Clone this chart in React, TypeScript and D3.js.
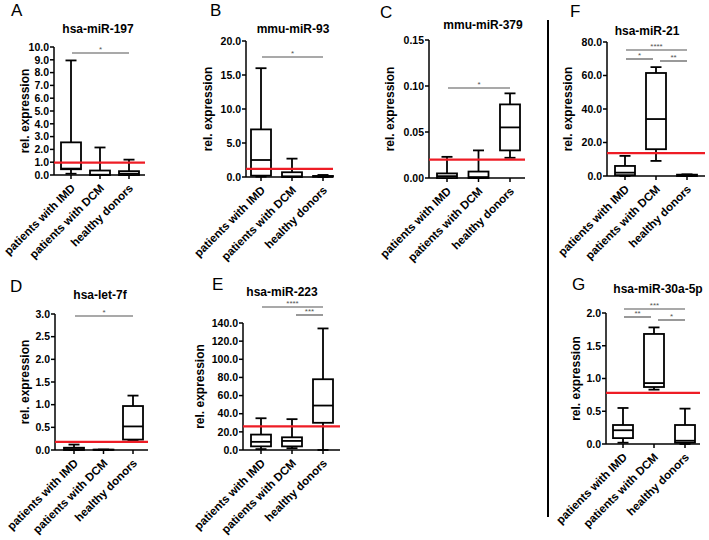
import React from "react";
import * as d3 from "d3";

const categories = ["patients with IMD", "patients with DCM", "healthy donors"];

// box stats per category: [min, q1, median, q3, max]
const statsA = [[0.1, 0.45, 0.5, 2.55, 8.95], [0, 0, 0.02, 0.35, 2.15], [0, 0, 0.1, 0.3, 1.2]];
const statsB = [[0.05, 0.2, 2.5, 7.0, 16.0], [0, 0, 0.1, 0.7, 2.7], [0, 0.05, 0.1, 0.15, 0.3]];
const statsC = [[0, 0, 0.002, 0.005, 0.023], [0, 0, 0.001, 0.007, 0.03], [0.022, 0.03, 0.055, 0.08, 0.092]];
const statsD = [[0, 0, 0.02, 0.05, 0.12], [0.005, 0.005, 0.005, 0.008, 0.008], [0.22, 0.23, 0.52, 0.97, 1.2]];
const statsE = [[1, 4, 9, 17, 35], [2, 4, 10, 14, 34], [0, 30, 49, 78, 134]];
const statsF = [[0, 0.5, 2, 6, 12], [9, 16, 34, 61.5, 65], [0, 0, 0.5, 0.8, 1]];
const statsG = [[0.02, 0.09, 0.21, 0.29, 0.55], [0.83, 0.87, 0.93, 1.68, 1.78], [0, 0.02, 0.05, 0.29, 0.54]];

const titles = ["hsa-miR-197", "mmu-miR-93", "mmu-miR-379", "hsa-let-7f", "hsa-miR-223", "hsa-miR-21", "hsa-miR-30a-5p"];
const letters = ["A", "B", "C", "D", "E", "F", "G"];
const yMax = [10, 20, 0.15, 3, 140, 80, 2];
const yStep = [1, 5, 0.05, 0.5, 20, 20, 0.5];
const yDecimals = [1, 1, 2, 1, 1, 1, 1];
const cutoffs = [0.97, 1.2, 0.02, 0.18, 26, 13.7, 0.78];

// significance bars: [fromCategory, toCategory, label]
const sigA = [[0, 2, "*"]];
const sigB = [[0, 2, "*"]];
const sigC = [[0, 2, "*"]];
const sigD = [[0, 2, "*"]];
const sigE = [[0, 2, "****"], [1, 2, "***"]];
const sigF = [[0, 2, "****"], [0, 1, "*"], [1, 2, "**"]];
const sigG = [[0, 2, "***"], [0, 1, "**"], [1, 2, "*"]];

const allStats = [statsA, statsB, statsC, statsD, statsE, statsF, statsG];
const allSig = [sigA, sigB, sigC, sigD, sigE, sigF, sigG];

const layout = [
  { letter: [11, 16], title: [98, 33], axisX: 54, axisEnd: 145, yBottom: 175, yTop: 47, catFirst: 71, catLast: 129, yLabelX: 25, sigY: [53] },
  { letter: [210, 16], title: [293, 33], axisX: 246, axisEnd: 333, yBottom: 177, yTop: 41, catFirst: 261, catLast: 323, yLabelX: 208, sigY: [57] },
  { letter: [380, 18], title: [483, 29], axisX: 429, axisEnd: 525, yBottom: 178, yTop: 40, catFirst: 447, catLast: 510, yLabelX: 390, sigY: [88] },
  { letter: [10, 292], title: [100, 299], axisX: 55, axisEnd: 148, yBottom: 450, yTop: 314, catFirst: 74, catLast: 133, yLabelX: 25, sigY: [316] },
  { letter: [212, 290], title: [282, 296], axisX: 243, axisEnd: 340, yBottom: 450, yTop: 323, catFirst: 261, catLast: 323, yLabelX: 200, sigY: [307, 315] },
  { letter: [570, 17], title: [647, 35], axisX: 607, axisEnd: 705, yBottom: 176, yTop: 42, catFirst: 625, catLast: 687, yLabelX: 568, sigY: [50, 59, 61] },
  { letter: [572, 290], title: [658, 293], axisX: 606, axisEnd: 700, yBottom: 444, yTop: 313, catFirst: 623, catLast: 685, yLabelX: 576, sigY: [309, 317, 320] },
];

const FONT = "'Liberation Sans', Arial, Helvetica, sans-serif";
const BOX_W = 20;
const CAP_W = 11;

function Panel({ i }: { i: number }) {
  const L = layout[i];
  const stats = allStats[i];
  const sig = allSig[i];
  const y = d3.scaleLinear().domain([0, yMax[i]]).range([L.yBottom, L.yTop]);
  const x = d3.scalePoint<string>().domain(categories).range([L.catFirst, L.catLast]);
  const ticks = d3.range(0, yMax[i] + yStep[i] / 2, yStep[i]);
  const fmt = d3.format(`.${yDecimals[i]}f`);
  const yMid = (L.yBottom + L.yTop) / 2;
  return (
    <g>
      <text x={L.letter[0]} y={L.letter[1]} fontSize={17} fontFamily={FONT}>{letters[i]}</text>
      <text x={L.title[0]} y={L.title[1]} fontSize={12} fontWeight="bold" textAnchor="middle" fontFamily={FONT}>{titles[i]}</text>
      <text transform={`translate(${L.yLabelX},${yMid}) rotate(-90)`} dy="0.35em" fontSize={12} fontWeight="bold" textAnchor="middle" fontFamily={FONT}>rel. expression</text>
      {/* y axis */}
      <line x1={L.axisX} x2={L.axisX} y1={L.yBottom} y2={L.yTop} stroke="#000" strokeWidth={1.5} />
      {ticks.map((t) => (
        <g key={t}>
          <line x1={L.axisX - 4} x2={L.axisX} y1={y(t)} y2={y(t)} stroke="#000" strokeWidth={1.5} />
          <text x={L.axisX - 5} y={y(t)} dy="0.36em" textAnchor="end" fontSize={10.5} fontWeight="bold" fontFamily={FONT}>{fmt(t)}</text>
        </g>
      ))}
      {/* x axis */}
      <line x1={L.axisX} x2={L.axisEnd} y1={L.yBottom} y2={L.yBottom} stroke="#000" strokeWidth={1.5} />
      {categories.map((c) => (
        <g key={c}>
          <line x1={x(c)} x2={x(c)} y1={L.yBottom} y2={L.yBottom + 4} stroke="#000" strokeWidth={1.5} />
          <text transform={`translate(${(x(c) as number) + 2},${L.yBottom + 11}) rotate(-45)`} dy="0.35em" textAnchor="end" fontSize={11.5} fontWeight="bold" fontFamily={FONT}>{c}</text>
        </g>
      ))}
      {/* boxes */}
      {stats.map((s, k) => {
        const cx = x(categories[k]) as number;
        const [mn, q1, md, q3, mx] = s;
        return (
          <g key={k} stroke="#000" strokeWidth={1.8} fill="#fff">
            <line x1={cx} x2={cx} y1={y(mx)} y2={y(q3)} />
            <line x1={cx} x2={cx} y1={y(q1)} y2={y(mn)} />
            <line x1={cx - CAP_W / 2} x2={cx + CAP_W / 2} y1={y(mx)} y2={y(mx)} />
            <line x1={cx - CAP_W / 2} x2={cx + CAP_W / 2} y1={y(mn)} y2={y(mn)} />
            <rect x={cx - BOX_W / 2} y={y(q3)} width={BOX_W} height={Math.max(0, y(q1) - y(q3))} />
            <line x1={cx - BOX_W / 2} x2={cx + BOX_W / 2} y1={y(md)} y2={y(md)} />
          </g>
        );
      })}
      {/* cutoff */}
      <line x1={L.axisX} x2={L.axisEnd} y1={y(cutoffs[i])} y2={y(cutoffs[i])} stroke="#ee1c25" strokeWidth={2.2} />
      {/* significance */}
      {sig.map((b, k) => {
        const a = b[0] as number;
        const e = b[1] as number;
        const adjacent = e - a === 1;
        const x1 = (x(categories[a]) as number) + (adjacent && a === 1 ? 4 : 1);
        const x2 = (x(categories[e]) as number) - (adjacent && e === 1 ? 3 : 0);
        const yy = L.sigY[k];
        return (
          <g key={k}>
            <line x1={x1} x2={x2} y1={yy} y2={yy} stroke="#555" strokeWidth={1.2} />
            <text x={(x1 + x2) / 2} y={yy - 1.5} textAnchor="middle" fontSize={8} fill="#555" fontFamily={FONT}>{b[2]}</text>
          </g>
        );
      })}
    </g>
  );
}

export default function App() {
  return (
    <div style={{ position: "absolute", left: 0, top: 0 }}>
      <svg width={709} height={540} style={{ display: "block", background: "#fff" }}>
        <rect width={709} height={540} fill="#fff" />
        <line x1={548} x2={548} y1={20} y2={517} stroke="#000" strokeWidth={2} />
        {layout.map((_, i) => (
          <Panel key={i} i={i} />
        ))}
      </svg>
    </div>
  );
}
